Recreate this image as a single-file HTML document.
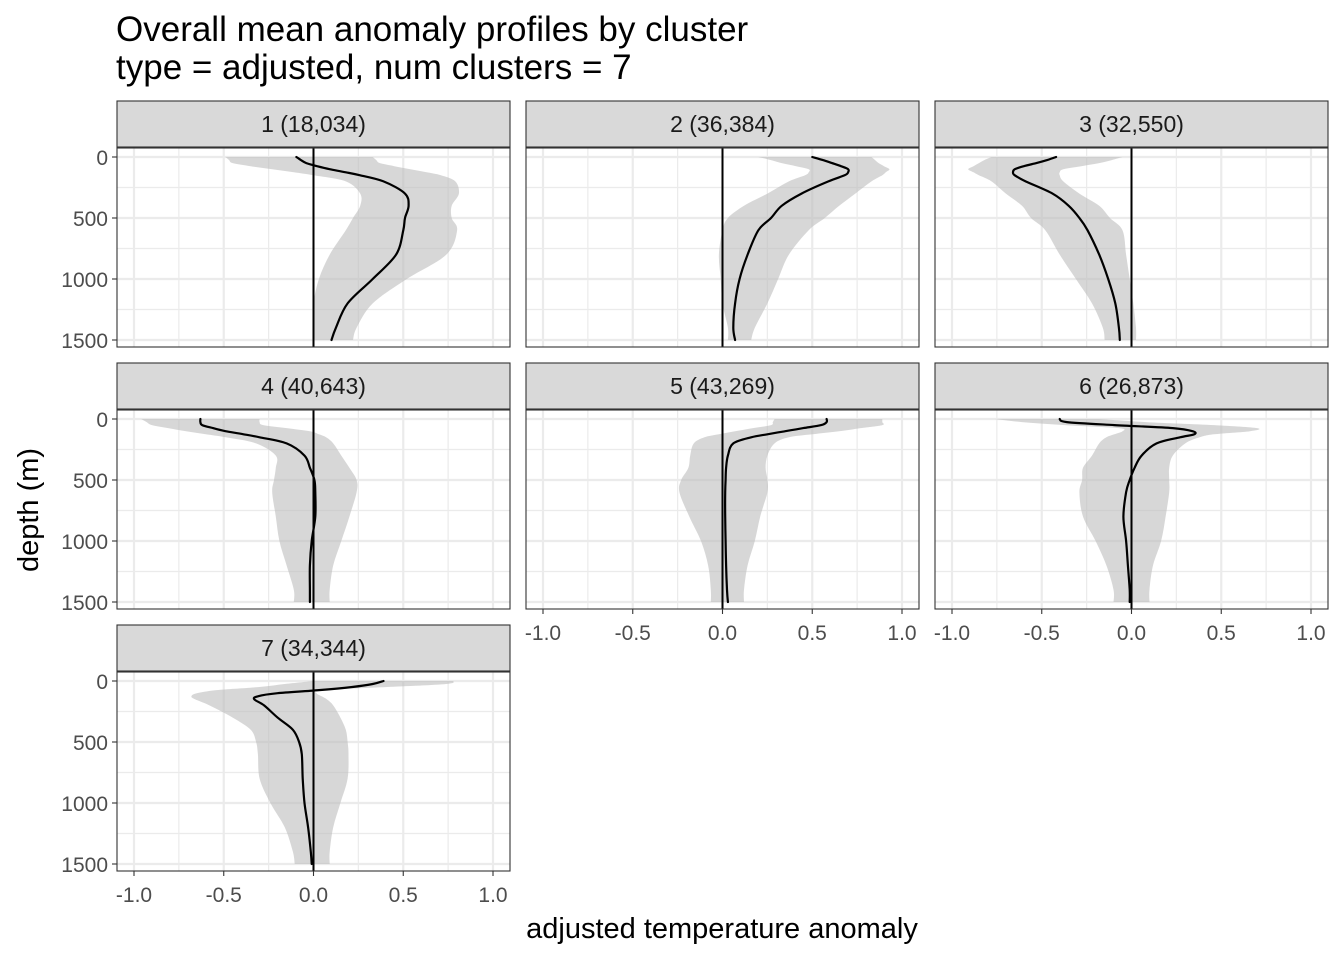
<!DOCTYPE html>
<html><head><meta charset="utf-8"><style>
body{margin:0;background:#fff}
svg text{font-family:"Liberation Sans",sans-serif}
</style></head><body>
<svg id="chart" width="1344" height="960" xmlns="http://www.w3.org/2000/svg">
<text x="116" y="41" font-size="35" fill="#000">Overall mean anomaly profiles by cluster</text>
<text x="116" y="79" font-size="35" fill="#000">type = adjusted, num clusters = 7</text>
<text x="722" y="938" font-size="29" text-anchor="middle" fill="#000">adjusted temperature anomaly</text>
<text transform="translate(38,510) rotate(-90)" font-size="29" text-anchor="middle" fill="#000">depth (m)</text>
<g id="panels"></g>
</svg>
<script>
const depths=[0,25,50,75,100,125,150,200,300,400,500,600,800,1000,1200,1400,1500];
const panelLabels=["1 (18,034)","2 (36,384)","3 (32,550)","4 (40,643)","5 (43,269)","6 (26,873)","7 (34,344)"];
const mean1=[-0.095,-0.07,-0.04,0.02,0.09,0.18,0.26,0.39,0.51,0.53,0.51,0.50,0.46,0.33,0.19,0.125,0.10];
const low1=[-0.49,-0.47,-0.45,-0.35,-0.23,-0.11,0,0.18,0.26,0.26,0.22,0.18,0.09,0.03,0,0,0];
const high1=[0.33,0.35,0.37,0.45,0.54,0.63,0.71,0.79,0.81,0.77,0.77,0.80,0.74,0.52,0.33,0.24,0.22];
const mean2=[0.50,0.56,0.61,0.66,0.70,0.70,0.68,0.59,0.44,0.33,0.27,0.20,0.14,0.095,0.07,0.06,0.07];
const low2=[0.20,0.27,0.33,0.41,0.48,0.48,0.46,0.37,0.25,0.12,0.03,0,-0.02,-0.01,0,0.03,0.03];
const high2=[0.83,0.85,0.87,0.90,0.93,0.91,0.89,0.83,0.74,0.65,0.57,0.48,0.37,0.31,0.25,0.18,0.16];
const mean3=[-0.42,-0.47,-0.53,-0.60,-0.65,-0.66,-0.65,-0.59,-0.44,-0.35,-0.29,-0.245,-0.18,-0.13,-0.09,-0.07,-0.065];
const low3=[-0.78,-0.82,-0.85,-0.88,-0.91,-0.88,-0.85,-0.78,-0.70,-0.61,-0.56,-0.48,-0.40,-0.31,-0.22,-0.16,-0.15];
const high3=[-0.05,-0.11,-0.18,-0.28,-0.38,-0.40,-0.40,-0.38,-0.29,-0.18,-0.12,-0.05,-0.03,-0.01,0.01,0.025,0.025];
const mean4=[-0.63,-0.63,-0.62,-0.56,-0.49,-0.39,-0.30,-0.15,-0.05,-0.02,0.005,0.01,0.01,-0.01,-0.02,-0.02,-0.02];
const low4=[-0.96,-0.93,-0.90,-0.81,-0.71,-0.60,-0.49,-0.32,-0.21,-0.21,-0.22,-0.23,-0.21,-0.19,-0.15,-0.11,-0.11];
const high4=[-0.30,-0.30,-0.28,-0.15,-0.02,0.03,0.07,0.11,0.155,0.20,0.24,0.24,0.20,0.155,0.11,0.09,0.09];
const mean5=[0.58,0.58,0.55,0.45,0.35,0.25,0.16,0.06,0.03,0.02,0.017,0.015,0.015,0.017,0.02,0.025,0.03];
const low5=[0.29,0.28,0.27,0.17,0.07,-0.02,-0.10,-0.16,-0.18,-0.19,-0.23,-0.24,-0.185,-0.12,-0.08,-0.065,-0.065];
const high5=[0.89,0.89,0.89,0.77,0.65,0.50,0.37,0.29,0.25,0.24,0.25,0.25,0.21,0.18,0.14,0.12,0.12];
const mean6=[-0.40,-0.36,-0.095,0.23,0.34,0.35,0.27,0.14,0.056,0.017,-0.01,-0.03,-0.045,-0.03,-0.02,-0.01,-0.01];
const low6=[-0.76,-0.61,-0.37,-0.07,-0.05,-0.095,-0.14,-0.18,-0.22,-0.27,-0.275,-0.29,-0.27,-0.20,-0.14,-0.10,-0.10];
const high6=[-0.18,0.08,0.46,0.70,0.66,0.46,0.38,0.30,0.23,0.21,0.21,0.21,0.19,0.165,0.12,0.10,0.10];
const mean7=[0.39,0.33,0.21,0.03,-0.20,-0.31,-0.33,-0.275,-0.20,-0.115,-0.08,-0.065,-0.06,-0.05,-0.03,-0.015,-0.01];
const low7=[0,-0.16,-0.31,-0.54,-0.65,-0.68,-0.66,-0.58,-0.45,-0.35,-0.32,-0.31,-0.30,-0.24,-0.16,-0.115,-0.105];
const high7=[0.78,0.74,0.40,0.045,0.017,0.045,0.074,0.11,0.15,0.18,0.19,0.195,0.19,0.15,0.11,0.09,0.09];
const xTicks=[-1,-0.5,0,0.5,1];
const xTickLabels=["-1.0","-0.5","0.0","0.5","1.0"];
const yTicks=[0,500,1000,1500];
const yTickLabels=["0","500","1000","1500"];
const means=[mean1,mean2,mean3,mean4,mean5,mean6,mean7];
const lows=[low1,low2,low3,low4,low5,low6,low7];
const highs=[high1,high2,high3,high4,high5,high6,high7];

const NS="http://www.w3.org/2000/svg";
const root=document.getElementById('panels');
function mk(tag,attrs,parent){const e=document.createElementNS(NS,tag);for(const k in attrs)e.setAttribute(k,attrs[k]);(parent||root).appendChild(e);return e;}
function smooth(P,move){
  let d=move?('M'+P[0][0].toFixed(1)+','+P[0][1].toFixed(1)):('L'+P[0][0].toFixed(1)+','+P[0][1].toFixed(1));
  for(let k=0;k<P.length-1;k++){
    const p0=P[Math.max(0,k-1)],p1=P[k],p2=P[k+1],p3=P[Math.min(P.length-1,k+2)];
    const c1=[p1[0]+(p2[0]-p0[0])/6,p1[1]+(p2[1]-p0[1])/6];
    const c2=[p2[0]-(p3[0]-p1[0])/6,p2[1]-(p3[1]-p1[1])/6];
    d+='C'+c1[0].toFixed(1)+','+c1[1].toFixed(1)+' '+c2[0].toFixed(1)+','+c2[1].toFixed(1)+' '+p2[0].toFixed(1)+','+p2[1].toFixed(1);
  }
  return d;
}
const PW=393,PH=199;
for(let i=0;i<7;i++){
  const r=Math.floor(i/3),c=i%3;
  const L=117+c*409, ST=101+r*262, T=ST+47;
  const xs=v=>L+17+(v+1)*179.5;
  const ys=d=>T+9+d*183/1500;
  const g=mk('g',{});
  
  
  const strip=mk('rect',{x:L,y:ST,width:PW,height:46,fill:'#d9d9d9',stroke:'#333','stroke-width':1.1},g);
  
  
  const st=mk('text',{x:L+PW/2,y:ST+31,'font-size':23,'text-anchor':'middle',fill:'#1a1a1a'},g);
  st.textContent=panelLabels[i];
  
  
  mk('rect',{x:L,y:T,width:PW,height:PH,fill:'#fff'},g);
  [-0.75,-0.25,0.25,0.75].forEach(v=>{const l=mk('line',{x1:xs(v),x2:xs(v),y1:T,y2:T+PH,stroke:'#ebebeb','stroke-width':1.2},g);});
  [250,750,1250].forEach(d=>{const l=mk('line',{x1:L,x2:L+PW,y1:ys(d),y2:ys(d),stroke:'#ebebeb','stroke-width':1.2},g);});
  xTicks.forEach(v=>{const l=mk('line',{x1:xs(v),x2:xs(v),y1:T,y2:T+PH,stroke:'#ebebeb','stroke-width':2.2},g);});
  yTicks.forEach(d=>{const l=mk('line',{x1:L,x2:L+PW,y1:ys(d),y2:ys(d),stroke:'#ebebeb','stroke-width':2.2},g);});
  const lowP=depths.map((d,k)=>[xs(lows[i][k]),ys(d)]);
  const highP=depths.map((d,k)=>[xs(highs[i][k]),ys(d)]).reverse();
  const band=mk('path',{d:smooth(lowP,true)+smooth(highP,false)+'Z',fill:'#bdbdbd','fill-opacity':0.6},g);
  
  
  const z=mk('line',{x1:xs(0),x2:xs(0),y1:T,y2:T+PH,stroke:'#000','stroke-width':2},g);
  
  
  const meanP=depths.map((d,k)=>[xs(means[i][k]),ys(d)]);
  const ml=mk('path',{d:smooth(meanP,true),fill:'none',stroke:'#000','stroke-width':2.2,'stroke-linejoin':'round','stroke-linecap':'round'},g);
  
  
  mk('rect',{x:L,y:T,width:PW,height:PH,fill:'none',stroke:'#333','stroke-width':1.1},g);
  if(c===0){
    yTicks.forEach((d,k)=>{
      mk('line',{x1:L-5,x2:L,y1:ys(d),y2:ys(d),stroke:'#333','stroke-width':1.1},g);
      const t=mk('text',{x:L-9,y:ys(d)+8,'font-size':21,'text-anchor':'end',fill:'#4d4d4d'},g);
      t.textContent=yTickLabels[k];
      
      
    });
  }
  if(i>=4){
    xTicks.forEach((v,k)=>{
      mk('line',{x1:xs(v),x2:xs(v),y1:T+PH,y2:T+PH+5,stroke:'#333','stroke-width':1.1},g);
      const t=mk('text',{x:xs(v),y:T+PH+31,'font-size':21,'text-anchor':'middle',fill:'#4d4d4d'},g);
      t.textContent=xTickLabels[k];
      
      
    });
  }
}
</script>
</body></html>
